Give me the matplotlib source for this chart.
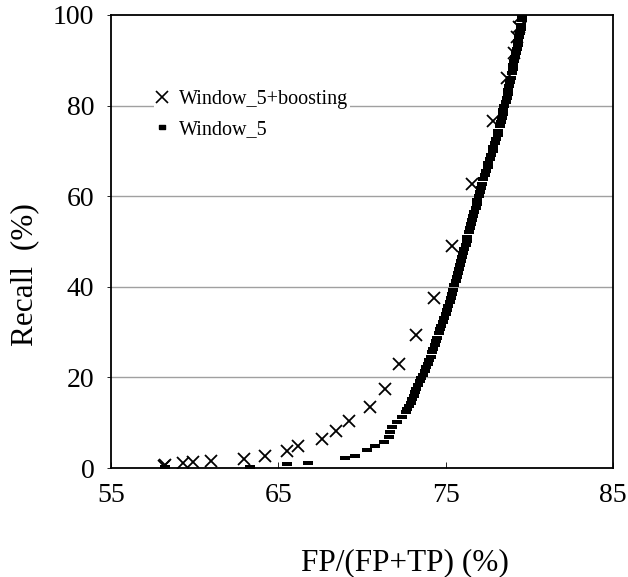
import matplotlib
matplotlib.use("Agg")
import matplotlib.pyplot as plt
from matplotlib.lines import Line2D
import numpy as np

plt.rcParams["font.family"] = ["Liberation Serif", "DejaVu Serif"]

# Window_5+boosting: FP/(FP+TP) (%) and recall (%)
boost_fp = [58.15, 58.2, 59.3, 59.9, 61.0, 62.95, 64.2, 65.5, 66.2, 67.6, 68.45, 69.25,
            70.5, 71.4, 72.2, 73.2, 74.3, 75.4, 76.55, 77.8, 78.65, 79.1, 79.25, 79.4, 79.45]
boost_rec = [0.4, 0.6, 1.1, 1.4, 1.6, 2.0, 2.7, 3.8, 4.9, 6.3, 8.2, 10.4,
             13.4, 17.4, 23.0, 29.4, 37.6, 48.9, 62.8, 76.5, 86.2, 91.7, 95.1, 97.4, 99.6]

# Window_5
win_fp = [58.2, 63.3, 65.5, 66.8, 69.0, 69.6, 70.3, 70.8, 71.3, 71.6, 71.7, 71.8, 72.1, 72.4,
          72.6, 72.7, 72.8, 72.9, 73.0, 73.1, 73.15, 73.25, 73.35, 73.45, 73.55, 73.65, 73.75,
          73.85, 73.95, 74.0, 74.1, 74.2, 74.25, 74.35, 74.45, 74.5, 74.6, 74.65, 74.75, 74.85,
          74.9, 75.0, 75.05, 75.15, 75.25, 75.3, 75.4, 75.45, 75.5, 75.6, 75.65, 75.75, 75.8,
          75.85, 75.9, 76.0, 76.05, 76.1, 76.2, 76.25, 76.3, 76.4, 76.45, 76.5, 76.55, 76.65,
          76.7, 76.8, 76.85, 76.9, 77.0, 77.05, 77.1, 77.2, 77.25, 77.35, 77.4, 77.5, 77.55,
          77.65, 77.7, 77.8, 77.85, 77.95, 78.0, 78.1, 78.15, 78.25, 78.3, 78.35, 78.4, 78.45,
          78.5, 78.6, 78.65, 78.7, 78.75, 78.8, 78.85, 78.9, 78.95, 79.0, 79.05, 79.1, 79.15,
          79.2, 79.25, 79.3, 79.35, 79.4, 79.45, 79.5, 79.5, 79.55, 79.55]
win_rec = [0.2, 0.3, 0.8, 1.0, 2.3, 2.7, 4.0, 4.9, 5.7, 6.9, 8.0, 9.1, 10.2, 11.3,
           12.3, 13.0, 13.7, 14.4, 15.2, 16.0, 16.8, 17.5, 18.3, 19.1, 19.9, 20.6, 21.4,
           22.2, 23.0, 23.8, 24.6, 25.5, 26.3, 27.1, 28.0, 28.8, 29.7, 30.6, 31.4, 32.3,
           33.1, 34.0, 34.9, 35.8, 36.7, 37.6, 38.5, 39.4, 40.3, 41.2, 42.1, 43.0, 43.9,
           44.8, 45.7, 46.6, 47.5, 48.4, 49.3, 50.2, 51.1, 52.0, 52.9, 53.8, 54.7, 55.6,
           56.5, 57.4, 58.3, 59.2, 60.1, 61.0, 61.9, 62.8, 63.7, 64.6, 65.5, 66.4, 67.3,
           68.2, 69.1, 70.0, 70.9, 71.8, 72.7, 73.6, 74.5, 75.4, 76.3, 77.2, 78.1, 79.0,
           79.9, 80.8, 81.7, 82.6, 83.5, 84.4, 85.3, 86.2, 87.1, 88.0, 88.9, 89.8, 90.7,
           91.6, 92.5, 93.4, 94.3, 95.2, 96.1, 97.0, 97.9, 98.8, 99.7]

xticks = [55, 65, 75, 85]
yticks = [0, 20, 40, 60, 80, 100]

# flat little bar used for the Window_5 points
dash = [(-1, -0.5), (1, -0.5), (1, 0.5), (-1, 0.5), (-1, -0.5)]

fig = plt.figure(figsize=(6.28, 5.77), dpi=100)
ax = fig.add_axes([111 / 628, 1 - 468 / 577, 502 / 628, 453 / 577])

for g in yticks[1:-1]:
    ax.axhline(g, color="#a0a0a0", lw=1.0, zorder=0)

ax.plot(win_fp, win_rec, ls="none", marker=dash, ms=6.5, color="black",
        markeredgewidth=0, zorder=2)
ax.plot(boost_fp, boost_rec, ls="none", marker="x", ms=9, mew=1.3, color="black", zorder=3)

ax.set_xlim(55, 85)
ax.set_ylim(0, 100)
ax.set_xticks(xticks)
ax.set_yticks(yticks)
ax.tick_params(axis="x", direction="in", length=4, width=0.6, pad=11, labelsize=20)
ax.tick_params(axis="y", direction="out", length=3, width=0.6, pad=9, labelsize=20)
for sp in ax.spines.values():
    sp.set_linewidth(1.3)

fig.text(405 / 628, 1 - 563 / 577, "FP/(FP+TP) (%)", ha="center", va="center", fontsize=22.5)
fig.text(25 / 628, 1 - 275 / 577, "Recall  (%)", ha="center", va="center", rotation=90,
         fontsize=22.5)

handles = [Line2D([], [], ls="none", marker="x", ms=8, mew=1.2, color="black"),
           Line2D([], [], ls="none", marker=dash, ms=5, markeredgewidth=1.0,
                  color="black")]
leg = ax.legend(handles, ["Window_5+boosting", "Window_5"], loc="upper left",
                bbox_to_anchor=(154 / 628, 1 - 88 / 577), bbox_transform=fig.transFigure,
                frameon=True, fontsize=14.5, handlelength=0.6, handletextpad=0.55,
                labelspacing=0.55, borderpad=0.1, borderaxespad=0)
leg.get_frame().set_facecolor("white")
leg.get_frame().set_edgecolor("none")
leg.get_frame().set_alpha(1)

fig.savefig("out.png", dpi=100)
